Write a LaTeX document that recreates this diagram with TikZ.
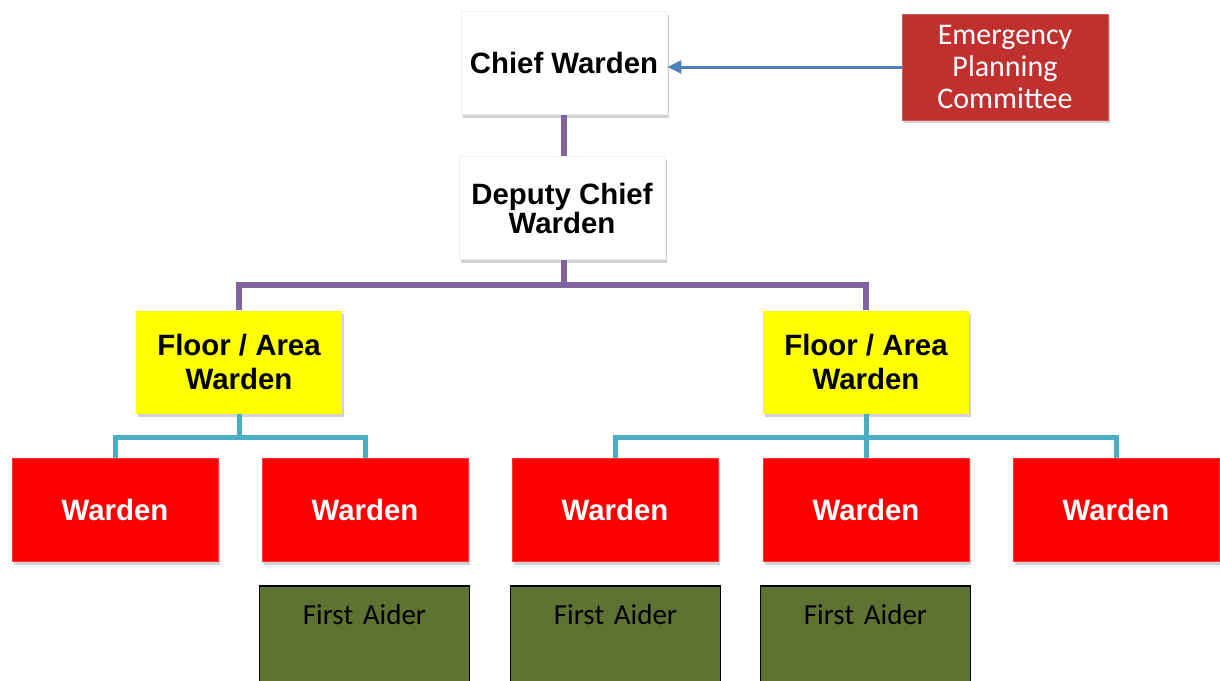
\documentclass[tikz,border=0pt]{standalone}
\usepackage{fontspec}
\setmainfont{Liberation Sans}
\newfontfamily\calibri{Carlito}
\usetikzlibrary{shadows,arrows.meta}
\definecolor{epcred}{RGB}{192,48,46}
\definecolor{olivebox}{RGB}{94,114,49}
\definecolor{purpleline}{RGB}{128,100,162}
\definecolor{tealline}{RGB}{75,172,198}
\definecolor{blueline}{RGB}{79,129,189}
\definecolor{wred}{RGB}{255,0,0}
\definecolor{wyellow}{RGB}{255,255,0}
\tikzset{
  boxbase/.style={rectangle, inner sep=0pt, minimum width=103pt, minimum height=51.5pt, align=center,
    drop shadow={opacity=0.35, shadow xshift=1pt, shadow yshift=-1.5pt}},
  whitebox/.style={boxbase, fill=white, draw=black!6, font=\fontsize{14.7}{16.5}\selectfont\bfseries},
  floorbox/.style={boxbase, fill=wyellow, font=\fontsize{14.7}{16.8}\selectfont\bfseries},
  wardenbox/.style={boxbase, fill=wred, draw=red!80!white, line width=0.5pt, text=white, font=\fontsize{14.7}{16.5}\selectfont\bfseries},
  epcbox/.style={boxbase, minimum height=53pt, fill=epcred, draw=epcred!80!white, line width=0.5pt, text=white, font=\calibri\fontsize{15}{16}\selectfont},
  aiderbox/.style={rectangle, inner sep=0pt, text width=105pt, align=center, text height=19.5pt, text depth=35.5pt,
    fill=olivebox, draw=black, line width=0.8pt, font=\calibri\fontsize{14.5}{16}\selectfont},
  purpleconn/.style={draw=purpleline, line width=3pt},
  tealconn/.style={draw=tealline, line width=2.5pt},
  blueconn/.style={draw=blueline, line width=1.5pt, -{Triangle[length=7pt,width=6.5pt]}}
}
\begin{document}
\begin{tikzpicture}[x=0.5pt,y=-0.5pt]
\useasboundingbox (0,0) rectangle (1220,680);
\clip (0,0) rectangle (1220,680);
\fill[white] (0,0) rectangle (1220,680);

\node[whitebox] (chief) at (564,63) {Chief Warden};
\node[whitebox, font=\fontsize{14.7}{14.5}\selectfont\bfseries] (deputy) at (562,208) {Deputy Chief\\Warden};
\node[epcbox] (epc) at (1005,67) {Emergency\\Planning\\Committee};

\node[floorbox] (fl) at (239,362) {Floor / Area\\Warden};
\node[floorbox] (fr) at (866,362) {Floor / Area\\Warden};

\node[wardenbox] (w1) at (115,510) {Warden};
\node[wardenbox] (w2) at (365,510) {Warden};
\node[wardenbox] (w3) at (615,510) {Warden};
\node[wardenbox] (w4) at (866,510) {Warden};
\node[wardenbox] (w5) at (1116,510) {Warden};

\node[aiderbox, anchor=north] (a1) at (364.5,585) {First Aider};
\node[aiderbox, anchor=north] (a2) at (615.5,585) {First Aider};
\node[aiderbox, anchor=north] (a3) at (865.5,585) {First Aider};

\draw[blueconn] (epc.west) -- (chief.east |- epc.west);

\draw[purpleconn] (chief.south) -- (deputy.north -| chief.south);
\draw[purpleconn] (deputy.south -| chief.south) -- ++(0,25) -| (fl.north);
\draw[purpleconn] (deputy.south -| chief.south) -- ++(0,25) -| (fr.north);

\draw[tealconn] (fl.south) -- ++(0,24) -| (w1.north);
\draw[tealconn] (fl.south) -- ++(0,24) -| (w2.north);
\draw[tealconn] (fr.south) -- ++(0,24) -| (w3.north);
\draw[tealconn] (fr.south) -- (w4.north);
\draw[tealconn] (fr.south) -- ++(0,24) -| (w5.north);
\end{tikzpicture}
\end{document}
